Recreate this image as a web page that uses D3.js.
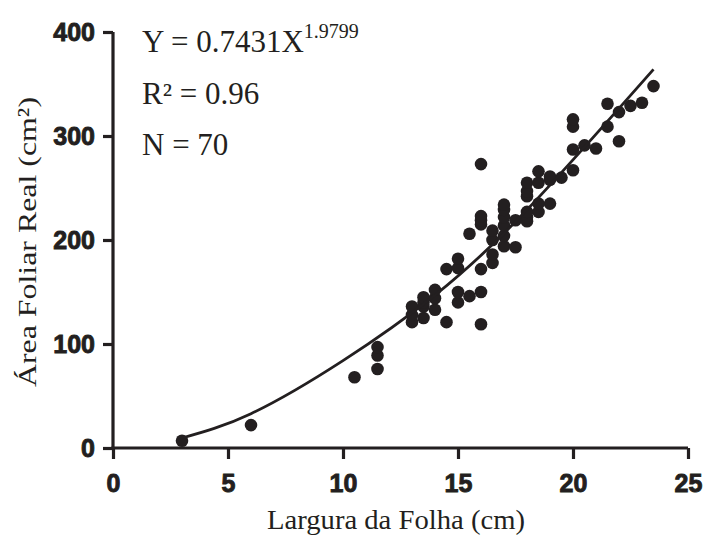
<!DOCTYPE html>
<html>
<head>
<meta charset="utf-8">
<script src="https://cdn.jsdelivr.net/npm/d3@7"></script>
<style>
  body { margin: 0; background: #fff; }
  svg { display: block; }
</style>
</head>
<body>
<div id="chart"></div>
<script>
const larguraFolha = [
  3, 6, 10.5, 11.5, 11.5, 11.5,
  13, 13, 13, 13.5, 13.5, 13.5, 13.5, 14, 14, 14,
  14.5, 14.5, 15, 15, 15, 15, 15.5, 15.5,
  16, 16, 16, 16, 16, 16, 16, 16.5, 16.5, 16.5, 16.5,
  17, 17, 17, 17, 17, 17, 17.5, 17.5,
  18, 18, 18, 18, 18, 18, 18.5, 18.5, 18.5, 18.5,
  19, 19, 19, 19.5, 20, 20, 20, 20, 20.5, 21,
  21.5, 21.5, 22, 22, 22.5, 23, 23.5
];
const areaFoliar = [
  7, 22, 68, 76, 89, 97,
  121, 128, 136, 125, 136, 140, 145, 133, 144, 152,
  121, 172, 140, 150, 173, 182, 146, 206,
  119, 150, 172, 215, 219, 223, 273, 178, 186, 200, 209,
  194, 204, 214, 222, 229, 234, 193, 219,
  218, 222, 227, 242, 247, 255, 227, 235, 255, 266,
  235, 258, 261, 260, 267, 287, 309, 316, 291, 288,
  309, 331, 295, 323, 329, 332, 348
];

// fitted curve as drawn in the figure (sampled along the line)
const curvaX = [3, 6, 10, 14, 18, 23.5];
const curvaY = [9.6, 33, 84, 147, 229, 364];

const xTicks = [0, 5, 10, 15, 20, 25];
const yTicks = [0, 100, 200, 300, 400];

const ink = '#231f20';
const W = 708, H = 542;

const svg = d3.select('#chart').append('svg')
  .attr('width', W).attr('height', H);

const x = d3.scaleLinear().domain([0, 25]).range([113, 688]);
const y = d3.scaleLinear().domain([0, 400]).range([448, 32]);

// axes
const xAxis = svg.append('g')
  .attr('transform', `translate(0,${y(0)})`)
  .call(d3.axisBottom(x).tickValues(xTicks).tickSize(11).tickPadding(15).tickSizeOuter(0));
const yAxis = svg.append('g')
  .attr('transform', `translate(${x(0)},0)`)
  .call(d3.axisLeft(y).tickValues(yTicks).tickSize(10).tickPadding(8).tickSizeOuter(0));

[xAxis, yAxis].forEach(a => {
  a.select('.domain').attr('stroke', ink).attr('stroke-width', 3.2);
  a.selectAll('.tick line').attr('stroke', ink).attr('stroke-width', 3.2);
  a.selectAll('.tick text')
    .attr('fill', ink)
    .attr('stroke', ink)
    .attr('stroke-width', 0.9)
    .style('font-family', '"Liberation Sans", Arial, sans-serif')
    .style('font-weight', 'bold')
    .style('font-size', '25px');
});
// extend the domain lines so they meet cleanly at the corner
xAxis.select('.domain').attr('d', `M${x(0) - 1.6},0H${x(25)}`);
yAxis.select('.domain').attr('d', `M0,${y(400)}V${y(0) + 1.6}`);

// points
const pts = larguraFolha.map((v, i) => ({ lx: v, af: areaFoliar[i] }));
svg.append('g').selectAll('circle')
  .data(pts)
  .join('circle')
  .attr('cx', d => x(d.lx))
  .attr('cy', d => y(d.af))
  .attr('r', 6.3)
  .attr('fill', ink);

// fitted curve
const curva = curvaX.map((v, i) => [v, curvaY[i]]);
svg.append('path')
  .datum(curva)
  .attr('fill', 'none')
  .attr('stroke', ink)
  .attr('stroke-width', 2.8)
  .attr('d', d3.line().x(d => x(d[0])).y(d => y(d[1])).curve(d3.curveNatural));

// axis titles
const serif = '"Liberation Serif", "Times New Roman", serif';
svg.append('text')
  .attr('x', 396).attr('y', 529)
  .attr('text-anchor', 'middle')
  .attr('fill', ink)
  .attr('textLength', 258)
  .attr('lengthAdjust', 'spacingAndGlyphs')
  .style('font-family', serif).style('font-size', '27px')
  .text('Largura da Folha (cm)');

svg.append('text')
  .attr('transform', 'translate(36,242) rotate(-90)')
  .attr('text-anchor', 'middle')
  .attr('fill', ink)
  .attr('textLength', 290)
  .attr('lengthAdjust', 'spacingAndGlyphs')
  .style('font-family', serif).style('font-size', '26px')
  .text('Área Foliar Real (cm²)');

// equation annotation
const ann = svg.append('g')
  .attr('fill', ink)
  .style('font-family', serif).style('font-size', '31px');
const eq = ann.append('text').attr('x', 142).attr('y', 52);
eq.append('tspan').text('Y = 0.7431X');
eq.append('tspan').attr('dy', -14).style('font-size', '20px').text('1.9799');
ann.append('text').attr('x', 142).attr('y', 104).text('R² = 0.96');
ann.append('text').attr('x', 142).attr('y', 155).text('N = 70');
</script>
</body>
</html>
